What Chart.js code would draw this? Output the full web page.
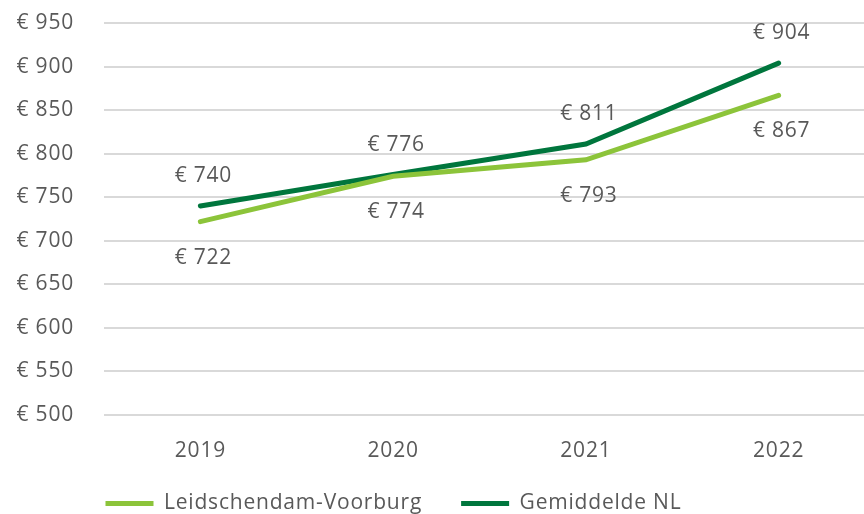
<!DOCTYPE html>
<html>
<head>
<meta charset="utf-8">
<script src="https://cdn.jsdelivr.net/npm/chart.js@4"></script>
<style>
  html, body { margin: 0; padding: 0; background: #fff; overflow: hidden; }
  #wrap { width: 875px; height: 514px; }
</style>
</head>
<body>
<div id="wrap"><canvas id="chart"></canvas></div>
<script>
const years = ['2019', '2020', '2021', '2022'];
const leidschendam = [722, 774, 793, 867];
const gemiddeldeNL = [740, 776, 811, 904];
const seriesNames = ['Leidschendam-Voorburg', 'Gemiddelde NL'];

const textColor = '#595959';
const fontFamily = "'Open Sans', sans-serif";
const fontSize = 21;

// a bit of letter spacing, the original text is set wider
const spacing = {
    id: 'spacing',
    beforeUpdate(chart) { chart.ctx.letterSpacing = '0.8px'; },
    beforeDraw(chart) { chart.ctx.letterSpacing = '0.8px'; }
};

// put the legend row where the original has it
const legendShift = {
    id: 'legendShift',
    afterLayout(chart) {
        const lg = chart.legend;
        lg.left = 66.5;
        lg.top = 454;
        lg.bottom = lg.top + lg.height;
    }
};

// values next to the points: light series below, dark series above
const valueLabels = {
    id: 'valueLabels',
    afterDatasetsDraw(chart) {
        const ctx = chart.ctx;
        ctx.save();
        ctx.font = fontSize + 'px ' + fontFamily;
        ctx.fillStyle = textColor;
        ctx.textAlign = 'center';
        ctx.textBaseline = 'middle';
        chart.data.datasets.forEach((ds, i) => {
            const meta = chart.getDatasetMeta(i);
            meta.data.forEach((pt, j) => {
                const dy = ds.labelBelow ? 36 : -30;
                ctx.fillText('€ ' + ds.data[j], pt.x + 3, pt.y + dy);
            });
        });
        ctx.restore();
    }
};

const config = {
    type: 'line',
    data: {
        labels: years,
        datasets: [{
            label: seriesNames[0],
            data: leidschendam,
            borderColor: '#8cc43a',
            backgroundColor: '#8cc43a',
            borderWidth: 5,
            borderCapStyle: 'round',
            pointRadius: 0,
            tension: 0,
            labelBelow: true
        }, {
            label: seriesNames[1],
            data: gemiddeldeNL,
            borderColor: '#00763d',
            backgroundColor: '#00763d',
            borderWidth: 5,
            borderCapStyle: 'round',
            pointRadius: 0,
            tension: 0,
            labelBelow: false
        }]
    },
    options: {
        responsive: true,
        maintainAspectRatio: false,
        animation: false,
        layout: {
            padding: { left: 0, top: 23, right: 0, bottom: -30 }
        },
        plugins: {
            tooltip: { enabled: false },
            legend: {
                position: 'bottom',
                align: 'start',
                labels: {
                    usePointStyle: true,
                    pointStyle: 'line',
                    pointStyleWidth: 48,
                    boxHeight: fontSize,
                    padding: 39,
                    color: textColor,
                    font: { family: fontFamily, size: fontSize }
                }
            }
        },
        scales: {
            x: {
                offset: true,
                grid: { display: false, drawTicks: false },
                border: { display: false },
                ticks: {
                    color: textColor,
                    padding: 23,
                    font: { family: fontFamily, size: fontSize }
                },
                afterFit: s => { s.height = 59; }
            },
            y: {
                min: 500,
                max: 950,
                ticks: {
                    stepSize: 50,
                    color: textColor,
                    padding: 30,
                    font: { family: fontFamily, size: fontSize },
                    callback: v => '€ ' + v
                },
                grid: { color: '#d9d9d9', lineWidth: 2, drawTicks: false },
                border: { display: false },
                afterFit: s => {
                    s.width = 104;
                    s.paddingTop = 0;
                    s.paddingBottom = 0;
                }
            }
        }
    },
    plugins: [spacing, legendShift, valueLabels]
};

new Chart(document.getElementById('chart'), config);
</script>
</body>
</html>
